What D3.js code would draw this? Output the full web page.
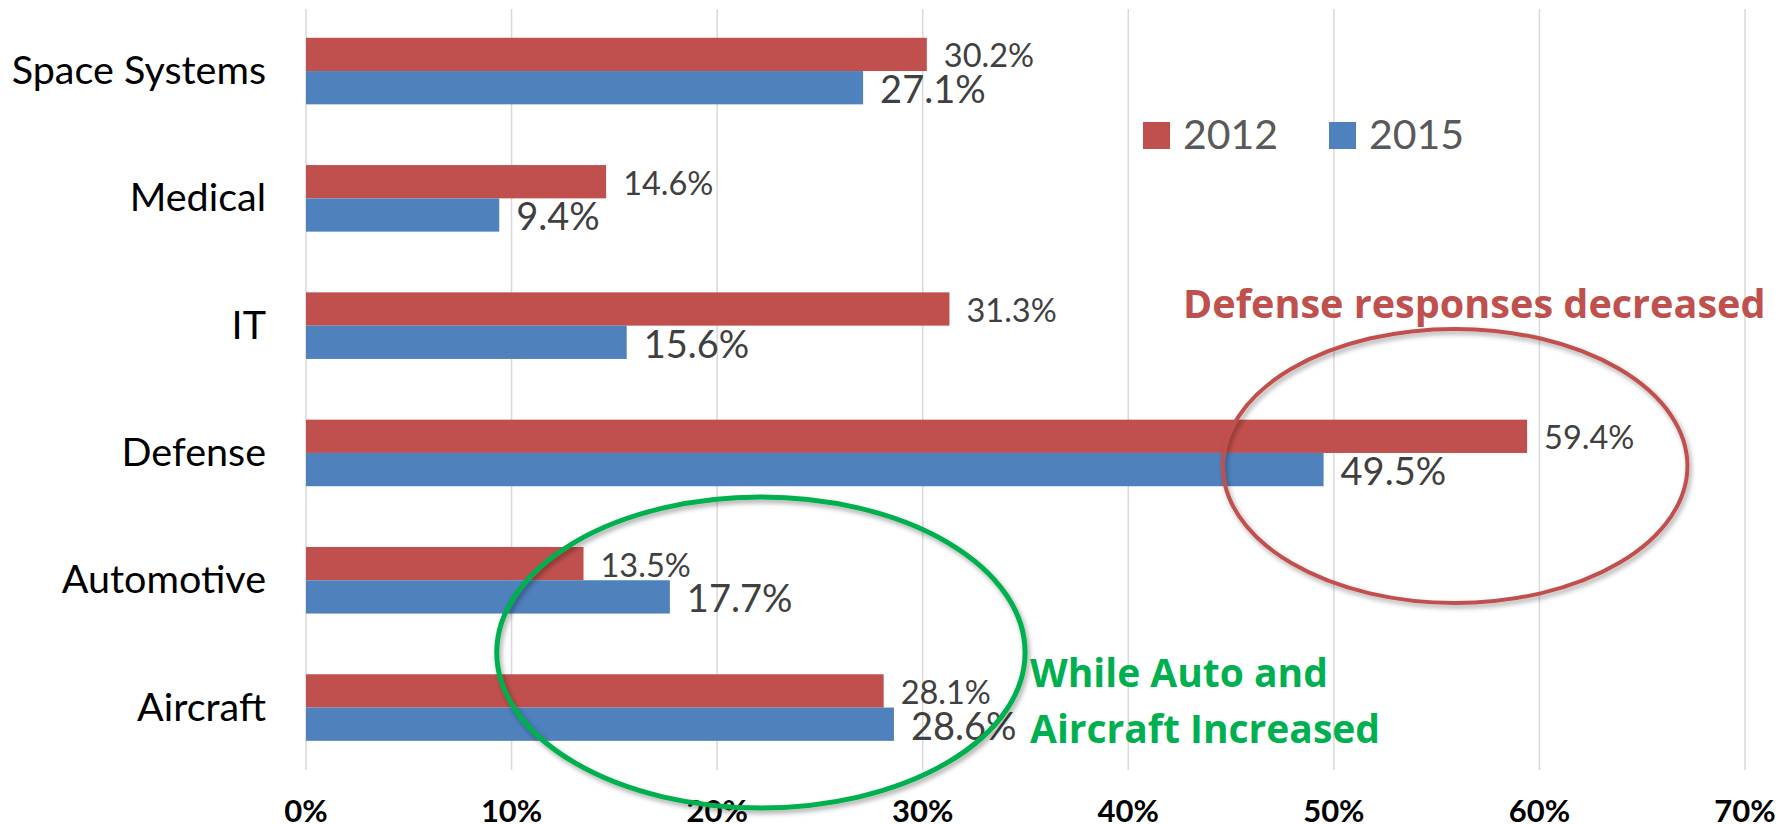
<!DOCTYPE html>
<html>
<head>
<meta charset="utf-8">
<script src="https://cdn.jsdelivr.net/npm/d3@7"></script>
<style>
body { margin: 0; background: #fff; }
svg text { font-family: Lato, "Open Sans", sans-serif; }
svg text.note { font-family: "Open Sans", Lato, sans-serif; font-weight: bold; }
</style>
</head>
<body>
<svg width="1791" height="824"></svg>
<script>
var categories = ["Space Systems", "Medical", "IT", "Defense", "Automotive", "Aircraft"];
var years = ["2012", "2015"];
var values2012 = [30.2, 14.6, 31.3, 59.4, 13.5, 28.1];
var values2015 = [27.1, 9.4, 15.6, 49.5, 17.7, 28.6];
var tickValues = [0, 10, 20, 30, 40, 50, 60, 70];
var colors = ["#C0504D", "#4F81BD"];
var defenseNote = ["Defense responses decreased"];
var autoNote = ["While Auto and", "Aircraft Increased"];

var svg = d3.select("svg");

// shadow for the hand drawn ovals
var defs = svg.append("defs");
defs.append("filter")
	.attr("id", "shadow")
	.attr("x", "-10%").attr("y", "-10%")
	.attr("width", "120%").attr("height", "120%")
	.append("feDropShadow")
	.attr("dx", 2).attr("dy", 3)
	.attr("stdDeviation", 2.5)
	.attr("flood-color", "#000")
	.attr("flood-opacity", 0.35);

var x = d3.scaleLinear().domain([0, 70]).range([306, 1745]);
var y = d3.scaleBand().domain(categories).range([7.4, 771.2])
	.paddingInner(0.477).paddingOuter(0.2385);
var sub = d3.scaleBand().domain(years).range([0, y.bandwidth()]);

var rows = categories.map(function(c, i){
	return {cat: c, vals: [values2012[i], values2015[i]]};
});

// grid
svg.append("g")
	.selectAll("line")
	.data(tickValues)
	.enter()
	.append("line")
	.attr("x1", d => x(d)).attr("x2", d => x(d))
	.attr("y1", 9).attr("y2", 770)
	.style("stroke", "#D9D9D9")
	.style("stroke-width", 1.5);

// tick labels
svg.append("g")
	.selectAll("text")
	.data(tickValues)
	.enter()
	.append("text")
	.text(d => d + "%")
	.attr("x", d => x(d))
	.attr("y", 822)
	.attr("text-anchor", "middle")
	.style("font-weight", "bold")
	.style("font-size", "31px")
	.style("fill", "#000");

// category labels
svg.append("g")
	.selectAll("text")
	.data(categories)
	.enter()
	.append("text")
	.text(d => d)
	.attr("x", 266)
	.attr("y", d => y(d) + y.bandwidth() / 2 + 13)
	.attr("text-anchor", "end")
	.style("font-size", "39.5px")
	.style("fill", "#000");

// bars
var groups = svg.append("g")
	.selectAll("g")
	.data(rows)
	.enter()
	.append("g")
	.attr("transform", d => "translate(0," + y(d.cat) + ")");

groups.selectAll("rect")
	.data(d => d.vals)
	.enter()
	.append("rect")
	.attr("x", x(0))
	.attr("y", (d, i) => sub(years[i]))
	.attr("width", d => x(d) - x(0))
	.attr("height", sub.bandwidth())
	.style("fill", (d, i) => colors[i]);

// value labels
groups.selectAll("text")
	.data(d => d.vals)
	.enter()
	.append("text")
	.text(d => d.toFixed(1) + "%")
	.attr("x", d => x(d) + 17)
	.attr("y", (d, i) => sub(years[i]) + sub.bandwidth() / 2 + (i == 0 ? 13 : 15.5))
	.style("font-size", (d, i) => i == 0 ? "32.5px" : "38px")
	.style("fill", "#404040");

// legend
var legend = svg.append("g")
	.selectAll("g")
	.data(years)
	.enter()
	.append("g")
	.attr("transform", (d, i) => "translate(" + (1143 + i * 186) + ",122)");
legend.append("rect")
	.attr("width", 27).attr("height", 27)
	.style("fill", (d, i) => colors[i]);
legend.append("text")
	.text(d => d)
	.attr("x", 40).attr("y", 27)
	.style("font-size", "41px")
	.style("fill", "#595959");

// ovals
var defY = y("Defense") + y.bandwidth() / 2;
svg.append("ellipse")
	.attr("cx", x(55.9)).attr("cy", defY + 13)
	.attr("rx", x(11.3) - x(0)).attr("ry", 137)
	.attr("filter", "url(#shadow)")
	.style("fill", "none")
	.style("stroke", colors[0])
	.style("stroke-width", 4);

var autoY = (y("Automotive") + y("Aircraft")) / 2 + y.bandwidth() / 2;
svg.append("ellipse")
	.attr("cx", x(22.13)).attr("cy", autoY + 8.6)
	.attr("rx", x(12.85) - x(0)).attr("ry", 155.5)
	.attr("filter", "url(#shadow)")
	.style("fill", "none")
	.style("stroke", "#00B050")
	.style("stroke-width", 5);

// notes
svg.append("g")
	.selectAll("text")
	.data(defenseNote)
	.enter()
	.append("text")
	.attr("class", "note")
	.text(d => d)
	.attr("x", 1183).attr("y", 318)
	.style("font-size", "39.6px")
	.style("fill", colors[0]);

svg.append("g")
	.selectAll("text")
	.data(autoNote)
	.enter()
	.append("text")
	.attr("class", "note")
	.text(d => d)
	.attr("x", 1030)
	.attr("y", (d, i) => 687 + i * 56)
	.style("font-size", "39px")
	.style("fill", "#00B050");
</script>
</body>
</html>
